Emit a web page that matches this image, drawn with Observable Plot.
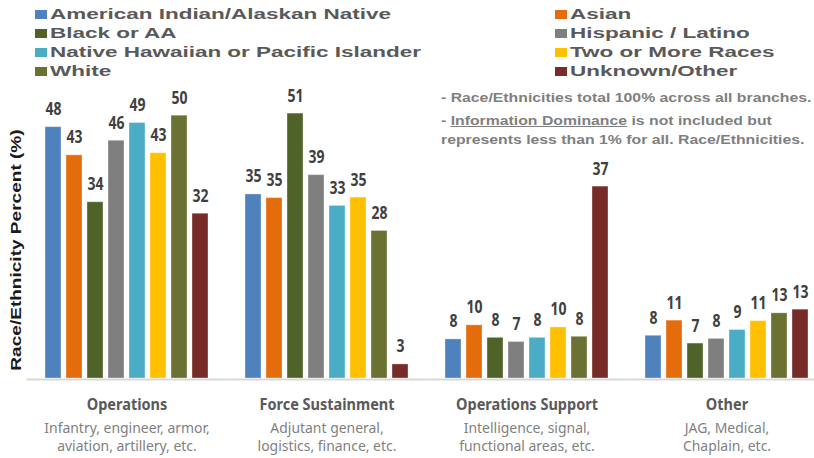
<!DOCTYPE html>
<html><head><meta charset="utf-8">
<script src="https://cdn.jsdelivr.net/npm/d3@7"></script>
<script src="https://cdn.jsdelivr.net/npm/@observablehq/plot@0.6"></script>
<style>
body{margin:0;background:#fff;}
#wrap{position:relative;width:814px;height:458px;overflow:hidden;font-family:"Liberation Sans",Arial,sans-serif;background:#fff;}
.leg{position:absolute;height:19px;display:flex;align-items:center;}
.sw{width:12px;height:9px;margin-right:3px;flex:none;}
.lt{font-weight:bold;font-size:14.5px;line-height:19px;color:#595959;display:inline-block;transform:scaleX(1.55);transform-origin:left center;white-space:nowrap;}
.note{position:absolute;left:441px;font-weight:bold;font-size:13.5px;line-height:16px;color:#7f7f7f;white-space:nowrap;transform:scaleX(1.17);transform-origin:left center;}
#ytitle{position:absolute;left:16px;top:250px;font-weight:bold;font-size:14px;color:#1a1a1a;white-space:nowrap;transform:translate(-50%,-50%) rotate(-90deg) scaleX(1.36);}
#chart{position:absolute;left:0;top:85px;}
</style></head>
<body>
<div id="wrap">
  <div id="legend"></div>
  <div id="ytitle"></div>
  <div id="notes"></div>
  <div id="chart"></div>
</div>
<script>
const races = ["American Indian/Alaskan Native","Asian","Black or AA","Hispanic / Latino","Native Hawaiian or Pacific Islander","Two or More Races","White","Unknown/Other"];
const raceColors = ["#4f81bd","#e46c0a","#4f6228","#7f7f7f","#4bacc6","#ffc000","#6b7033","#772c2a"];
const groups = ["Operations","Force Sustainment","Operations Support","Other"];
const groupNotes = ["Infantry, engineer, armor,\naviation, artillery, etc.","Adjutant general,\nlogistics, finance, etc.","Intelligence, signal,\nfunctional areas, etc.","JAG, Medical,\nChaplain, etc."];
const operations = [48.2, 42.8, 33.8, 45.6, 49.0, 43.2, 50.4, 31.6];
const forceSustainment = [35.3, 34.6, 50.8, 39.0, 33.1, 34.7, 28.3, 2.7];
const operationsSupport = [7.5, 10.2, 7.8, 7.0, 7.8, 9.8, 8.0, 36.8];
const other = [8.2, 11.1, 6.7, 7.6, 9.3, 11.0, 12.5, 13.2];
const yTitle = "Race/Ethnicity Percent (%)";
const noteLines = ["- Race/Ethnicities total 100% across all branches.", "- <u>Information Dominance</u> is not included but", "represents less than 1% for all. Race/Ethnicities."];

const series = [operations, forceSustainment, operationsSupport, other];
const rows = [];
groups.forEach((g, gi) => races.forEach((r, ri) => rows.push({group: g, race: r, value: series[gi][ri]})));

const legend = document.getElementById("legend");
const legendRowsY = [5, 24, 43, 62];
races.forEach((r, i) => {
  const col = i % 2, row = Math.floor(i / 2);
  const d = document.createElement("div");
  d.className = "leg";
  d.style.left = (col === 0 ? 35 : 555) + "px";
  d.style.top = legendRowsY[row] + "px";
  d.innerHTML = `<span class="sw" style="background:${raceColors[i]}"></span><span class="lt">${r}</span>`;
  legend.appendChild(d);
});
document.getElementById("ytitle").textContent = yTitle;
const notes = document.getElementById("notes");
[90, 113, 132].forEach((t, i) => {
  const d = document.createElement("div");
  d.className = "note";
  d.style.top = t + "px";
  d.innerHTML = noteLines[i];
  notes.appendChild(d);
});

const chart = Plot.plot({
  width: 814, height: 373,
  marginTop: 1, marginBottom: 80, marginLeft: 0, marginRight: 0,
  style: {background: "transparent", overflow: "visible"},
  fx: {domain: groups, range: [26.5, 826.5], padding: 0, round: false, axis: null},
  x: {domain: races, paddingInner: 0.238, paddingOuter: 0.881, round: false, axis: null},
  y: {domain: [0, 56], axis: null},
  color: {domain: races, range: raceColors},
  marks: [
    Plot.barY(rows, {fx: "group", x: "race", y: "value", fill: "race", stroke: "#ffffff", strokeOpacity: 0.35, strokeWidth: 1}),
    Plot.ruleY([0], {stroke: "#d9d9d9", strokeWidth: 2, dy: 1}),
    Plot.text(rows, {fx: "group", x: "race", y: "value", text: d => String(Math.round(d.value)), dy: -12, lineAnchor: "bottom", fontWeight: "bold", fontSize: 17.5, fill: "#404040", className: "vlabel"}),
    Plot.text(groups, {fx: d => d, text: d => d, frameAnchor: "bottom", dy: 26, lineAnchor: "middle", fontWeight: "bold", fontSize: 16.5, fill: "#595959", className: "glabel"}),
    Plot.text(groups.map((g, i) => ({g, note: groupNotes[i]})), {fx: "g", text: "note", frameAnchor: "bottom", dy: 58, lineAnchor: "middle", lineHeight: 1.2, fontSize: 15, fill: "#7f7f7f", className: "slabel"})
  ]
});
function condense(sel, k) {
  chart.querySelectorAll(sel + " text").forEach(t => {
    const tr = t.getAttribute("transform") || "";
    t.setAttribute("transform", `${tr} scale(${k},1)`);
  });
}
condense(".vlabel", 0.8);
condense(".glabel", 0.88);
condense(".slabel", 0.93);
document.getElementById("chart").appendChild(chart);
</script>
</body></html>
